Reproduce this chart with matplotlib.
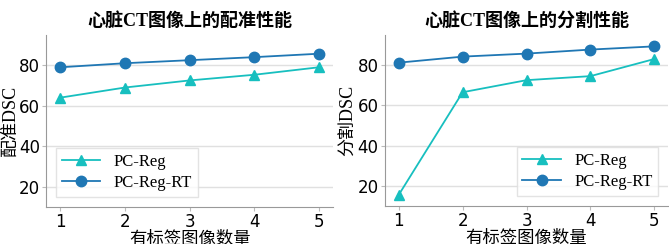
import matplotlib
matplotlib.use("Agg")
import matplotlib.pyplot as plt

x = [1, 2, 3, 4, 5]
reg_left = [64.0, 69.0, 72.5, 75.3, 79.0]
regrt_left = [79.0, 81.0, 82.5, 84.0, 85.7]
reg_right = [15.5, 66.5, 72.5, 74.5, 83.0]
regrt_right = [81.2, 84.2, 85.7, 87.7, 89.3]
titles = ["心脏CT图像上的配准性能", "心脏CT图像上的分割性能"]
ylabels = ["配准DSC", "分割DSC"]
xlabel = "有标签图像数量"
series_names = ["PC-Reg", "PC-Reg-RT"]

fam = ['Liberation Serif', 'Noto Sans CJK SC']
fig = plt.figure(figsize=(6.69, 2.44), dpi=100)
ax1 = fig.add_axes([0.069, 0.152, 0.429, 0.705])
ax2 = fig.add_axes([0.575, 0.156, 0.424, 0.701])

c1 = '#17bfbf'
c2 = '#1f77b4'
for ax, r, rt, t, yl, loc in [(ax1, reg_left, regrt_left, titles[0], ylabels[0], 'lower left'),
                              (ax2, reg_right, regrt_right, titles[1], ylabels[1], 'lower right')]:
    ax.plot(x, r, color=c1, marker='^', markersize=7.5, linewidth=1.3, label=series_names[0])
    ax.plot(x, rt, color=c2, marker='o', markersize=7.5, linewidth=1.3, label=series_names[1])
    ax.set_xlim(0.78, 5.22)
    ax.set_ylim(10, 95)
    ax.set_xticks(x)
    ax.set_yticks([20, 40, 60, 80])
    ax.grid(axis='y', color='#e0e0e0', linewidth=1)
    ax.set_axisbelow(True)
    for s in ['top', 'right']:
        ax.spines[s].set_visible(False)
    for s in ['left', 'bottom']:
        ax.spines[s].set_color('#999999')
    ax.tick_params(axis='both', labelsize=12, length=3, pad=1.5, color='#bbbbbb')
    ax.set_title(t, fontsize=13, fontweight='bold', family=['Liberation Serif', 'Noto Sans CJK SC'], pad=6)
    ax.set_xlabel(xlabel, fontsize=12.5, family=['Noto Sans CJK SC'], labelpad=-1)
    ax.set_ylabel(yl, fontsize=13, family=fam, labelpad=0)
    leg = ax.legend(loc=loc, prop={'family': 'Liberation Serif', 'size': 12}, fancybox=False,
                    edgecolor='#dddddd', borderpad=0.35, handlelength=2.3, labelspacing=0.3,
                    borderaxespad=0.6)

fig.savefig("out.png", dpi=100)
